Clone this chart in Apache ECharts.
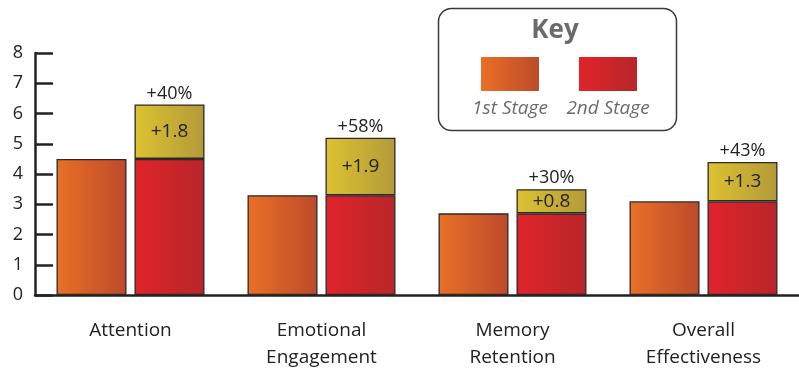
<!DOCTYPE html>
<html><head><meta charset="utf-8">
<script src="https://cdn.jsdelivr.net/npm/echarts@6/dist/echarts.min.js"></script>
<style>html,body{margin:0;padding:0;background:#fff}#c{width:799px;height:371px}</style>
</head><body><div id="c"></div>
<script>
var categories = ['Attention', 'Emotional\nEngagement', 'Memory\nRetention', 'Overall\nEffectiveness'];
var stage1 = [4.5, 3.3, 2.7, 3.1];
var stage2 = [4.5, 3.3, 2.7, 3.1];
var increase = [1.8, 1.9, 0.8, 1.3];
var pctLabels = ['+40%', '+58%', '+30%', '+43%'];
var yTicks = [0, 1, 2, 3, 4, 5, 6, 7, 8];

var FONT = '"Open Sans", "Noto Sans", sans-serif';
function grad(a, b) {
  return new echarts.graphic.LinearGradient(0, 0, 1, 0, [{offset: 0, color: a}, {offset: 1, color: b}]);
}
var g1 = function(){ return grad('#E97026', '#BD4A2B'); };
var g2 = function(){ return grad('#E0242A', '#B8262A'); };
var g3 = function(){ return grad('#DDC231', '#B39A39'); };
var border = {borderColor: '#2a2a2a', borderWidth: 1.3};
var BW = 70, BG = '11.4%';

var chart = echarts.init(document.getElementById('c'), null, {renderer: 'canvas'});
chart.setOption({
  animation: false,
  grid: {left: 35, top: 53, width: 774, bottom: 76, containLabel: false},
  xAxis: {
    type: 'category', data: categories,
    axisLine: {lineStyle: {color: '#222', width: 2.5}},
    axisTick: {inside: true, length: 6, lineStyle: {color: '#222', width: 2}},
    axisLabel: {color: '#222', fontFamily: FONT, fontSize: 19, lineHeight: 27, margin: 22}
  },
  yAxis: {
    type: 'value', min: yTicks[0], max: yTicks[yTicks.length - 1], interval: 1,
    splitLine: {show: false},
    axisLine: {show: true, lineStyle: {color: '#222', width: 2.5}},
    axisTick: {show: true, inside: true, length: 18, lineStyle: {color: '#222', width: 2.5}},
    axisLabel: {color: '#222', fontFamily: FONT, fontSize: 18, margin: 12}
  },
  series: [
    {type: 'bar', name: '1st Stage', stack: 'a', data: stage1, barWidth: BW, barGap: BG,
     itemStyle: Object.assign({color: g1()}, border)},
    {type: 'bar', name: '2nd Stage', stack: 'b', data: stage2, barWidth: BW, barGap: BG,
     itemStyle: Object.assign({color: g2()}, border)},
    {type: 'bar', name: 'Increase', stack: 'b', data: increase, barWidth: BW, barGap: BG,
     itemStyle: Object.assign({color: g3()}, border),
     label: {show: true, position: 'inside', color: '#222', fontFamily: FONT, fontSize: 19,
       formatter: function(p){ return '+' + p.value; }}},
    {type: 'bar', name: 'Pct', stack: 'b', data: increase.map(function(){ return 0; }), barWidth: BW, barGap: BG,
     itemStyle: {color: 'transparent', borderWidth: 0},
     label: {show: true, position: 'top', distance: 2, color: '#222', fontFamily: FONT, fontSize: 18,
       formatter: function(p){ return pctLabels[p.dataIndex]; }}}
  ],
  graphic: [
    {type: 'rect', shape: {x: 438.5, y: 8.5, width: 238, height: 122, r: 13},
     style: {fill: '#fff', stroke: '#3a3a3a', lineWidth: 1.5}, z: 10},
    {type: 'text', x: 555, y: 31, z: 11, style: {text: 'Key', fill: '#6b6b6b', font: 'bold 26px ' + FONT, textAlign: 'center', textVerticalAlign: 'middle'}},
    {type: 'rect', shape: {x: 481, y: 57, width: 58, height: 34}, style: {fill: g1()}, z: 11},
    {type: 'rect', shape: {x: 579, y: 57, width: 58, height: 34}, style: {fill: g2()}, z: 11},
    {type: 'text', x: 510, y: 109, z: 11, style: {text: '1st Stage', fill: '#6b6b6b', font: 'italic 19px ' + FONT, textAlign: 'center', textVerticalAlign: 'middle'}},
    {type: 'text', x: 608, y: 109, z: 11, style: {text: '2nd Stage', fill: '#6b6b6b', font: 'italic 19px ' + FONT, textAlign: 'center', textVerticalAlign: 'middle'}}
  ]
});
</script></body></html>
